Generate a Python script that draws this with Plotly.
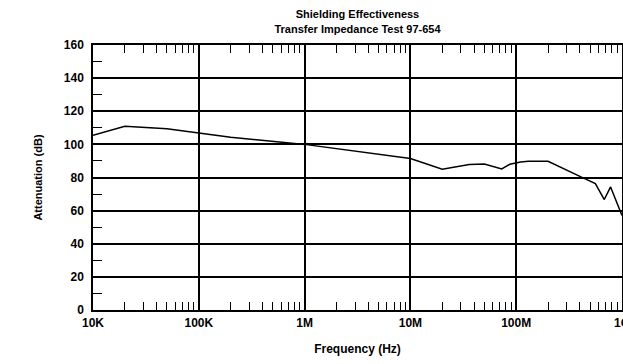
import plotly.graph_objects as go

freq_hz = [1e4, 2e4, 5e4, 1e5, 2e5, 1e6, 1e7, 2e7, 3.6e7, 5e7, 7.3e7, 8.7e7,
           1.1e8, 1.3e8, 2e8, 4e8, 5.6e8, 6.8e8, 7.8e8, 1e9]
attenuation_db = [105.5, 111, 109.5, 107, 104.3, 100, 91.5, 85, 87.8, 88.2, 85.2, 88,
                  89.4, 89.8, 89.8, 80.7, 76.3, 66.7, 74.3, 57]

x_tick_vals = [1e4, 1e5, 1e6, 1e7, 1e8, 1e9]
x_tick_text = ["10K", "100K", "1M", "10M", "100M", "1G"]
x_minor_vals = [m * d for d in [1e4, 1e5, 1e6, 1e7, 1e8] for m in range(2, 10)]
y_tick_vals = list(range(0, 161, 20))
y_minor_vals = list(range(10, 160, 20))

FONT = "Liberation Sans, Arial, Helvetica, sans-serif"

fig = go.Figure()
fig.add_trace(go.Scatter(x=freq_hz, y=attenuation_db, mode="lines",
                         line=dict(color="black", width=1.5), showlegend=False,
                         hoverinfo="skip"))

fig.update_layout(
    width=623, height=364,
    margin=dict(l=93, r=1, t=45, b=54, autoexpand=False),
    paper_bgcolor="white", plot_bgcolor="white",
    font=dict(family=FONT, color="black"),
    title=dict(text="Shielding Effectiveness<br>Transfer Impedance Test 97-654",
               x=0.5, xanchor="center", xref="paper",
               yref="container", y=0.950, yanchor="middle",
               font=dict(size=11, family=FONT, color="black", weight="bold")),
    xaxis=dict(type="log", range=[4, 9], tickvals=x_tick_vals, ticktext=x_tick_text,
               automargin=False, ticklabeloverflow="allow",
               showgrid=True, gridcolor="black", gridwidth=1.5,
               showline=True, linecolor="black", linewidth=1.5, mirror="allticks",
               ticks="inside", ticklen=0, tickcolor="black", ticklabelstandoff=1,
               tickfont=dict(size=12, family=FONT, color="black", weight="bold"),
               minor=dict(tickvals=x_minor_vals, ticks="inside", ticklen=8,
                          tickcolor="black", tickwidth=1.2, showgrid=False),
               title=dict(text="Frequency (Hz)", standoff=15,
                          font=dict(size=12, family=FONT, color="black", weight="bold")),
               zeroline=False),
    yaxis=dict(range=[0, 160], tickvals=y_tick_vals, automargin=False,
               showgrid=True, gridcolor="black", gridwidth=1.5,
               showline=True, linecolor="black", linewidth=1.5, mirror=True,
               ticks="", ticklabelstandoff=5,
               tickfont=dict(size=12, family=FONT, color="black", weight="bold"),
               minor=dict(tickvals=y_minor_vals, ticks="inside", ticklen=9,
                          tickcolor="black", tickwidth=1.2, showgrid=False),
               title=dict(text="Attenuation (dB)", standoff=19,
                          font=dict(size=11, family=FONT, color="black", weight="bold")),
               zeroline=False),
)

fig.write_html(
    "out.html",
    config={"displayModeBar": False},
    post_script="document.body.style.margin='0';document.body.style.overflow='hidden';",
)
